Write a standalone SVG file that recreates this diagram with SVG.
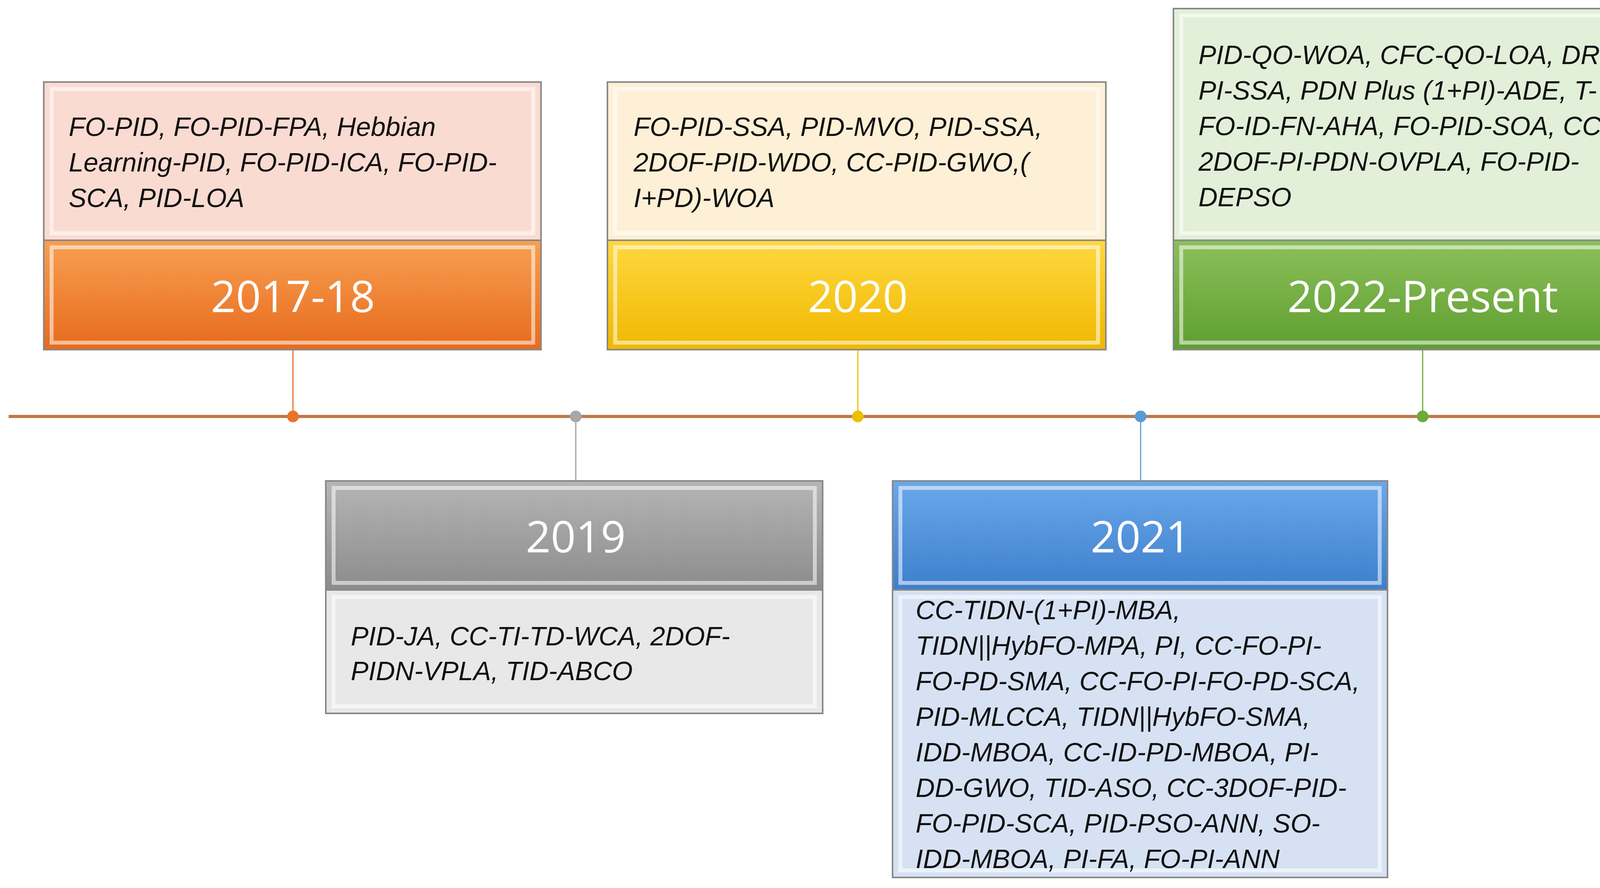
<svg xmlns="http://www.w3.org/2000/svg" width="4386" height="2273" viewBox="0 0 4386 2273">
<style>
.t{font-family:"Liberation Sans",Arial,sans-serif;font-style:italic;font-size:68px;fill:#111;dominant-baseline:central}
.h{font-family:"Open Sans","Liberation Sans",sans-serif;font-size:112px;fill:#fff;text-anchor:middle;dominant-baseline:central}
.b{stroke:#888;stroke-width:4}
.hl{fill:none;stroke:#fff;stroke-opacity:0.55;stroke-width:10}
</style>
<defs>
<linearGradient id="go" x1="0" y1="0" x2="0" y2="1"><stop offset="0" stop-color="#f7a052"/><stop offset="1" stop-color="#e86a1c"/></linearGradient>
<linearGradient id="gg" x1="0" y1="0" x2="0" y2="1"><stop offset="0" stop-color="#b5b5b5"/><stop offset="1" stop-color="#8c8c8c"/></linearGradient>
<linearGradient id="gy" x1="0" y1="0" x2="0" y2="1"><stop offset="0" stop-color="#ffd840"/><stop offset="1" stop-color="#f0b800"/></linearGradient>
<linearGradient id="gb" x1="0" y1="0" x2="0" y2="1"><stop offset="0" stop-color="#6aa8ea"/><stop offset="1" stop-color="#3d7fcc"/></linearGradient>
<linearGradient id="gn" x1="0" y1="0" x2="0" y2="1"><stop offset="0" stop-color="#8cc05a"/><stop offset="1" stop-color="#5e9e30"/></linearGradient>
</defs>
<g id="connectors">
<line x1="22" y1="1066" x2="4363" y2="1066" stroke="#c0784a" stroke-width="8"/>
<line x1="750" y1="895" x2="750" y2="1066" stroke="#e8742a" stroke-width="3"/>
<line x1="1474" y1="1066" x2="1474" y2="1231" stroke="#a0a0a0" stroke-width="3"/>
<line x1="2196" y1="895" x2="2196" y2="1066" stroke="#e8c000" stroke-width="3"/>
<line x1="2920" y1="1066" x2="2920" y2="1231" stroke="#5b9bd5" stroke-width="3"/>
<line x1="3642" y1="895" x2="3642" y2="1066" stroke="#6aac3a" stroke-width="3"/>
<circle cx="750" cy="1066" r="15" fill="#e8742a"/>
<circle cx="1474" cy="1066" r="15" fill="#a8a8a8"/>
<circle cx="2196" cy="1066" r="15" fill="#e8c000"/>
<circle cx="2920" cy="1066" r="15" fill="#5b9bd5"/>
<circle cx="3642" cy="1066" r="15" fill="#6aac3a"/>
</g>
<g id="n2017">
<rect x="112" y="210" width="1273" height="405" fill="#fadbd2" class="b"/><rect x="132" y="228" width="1233" height="369" class="hl"/>
<text class="t" x="176" y="324">FO-PID, FO-PID-FPA, Hebbian</text>
<text class="t" x="176" y="415">Learning-PID, FO-PID-ICA, FO-PID-</text>
<text class="t" x="176" y="506">SCA, PID-LOA</text>
<rect x="112" y="615" width="1273" height="280" fill="url(#go)" class="b"/><rect x="132" y="633" width="1233" height="244" class="hl"/>
<text class="h" x="750" y="755">2017-18</text>
</g>
<g id="n2019">
<rect x="834" y="1231" width="1272" height="279" fill="url(#gg)" class="b"/><rect x="854" y="1249" width="1232" height="243" class="hl"/>
<text class="h" x="1474" y="1370">2019</text>
<rect x="834" y="1510" width="1272" height="316" fill="#e8e8e8" class="b"/><rect x="854" y="1528" width="1232" height="280" class="hl"/>
<text class="t" x="898" y="1628">PID-JA, CC-TI-TD-WCA, 2DOF-</text>
<text class="t" x="898" y="1717">PIDN-VPLA, TID-ABCO</text>
</g>
<g id="n2020">
<rect x="1555" y="210" width="1276" height="405" fill="#fdf0d6" class="b"/><rect x="1575" y="228" width="1236" height="369" class="hl"/>
<text class="t" x="1622" y="324">FO-PID-SSA, PID-MVO, PID-SSA,</text>
<text class="t" x="1622" y="415">2DOF-PID-WDO, CC-PID-GWO,(</text>
<text class="t" x="1622" y="506">I+PD)-WOA</text>
<rect x="1555" y="615" width="1276" height="280" fill="url(#gy)" class="b"/><rect x="1575" y="633" width="1236" height="244" class="hl"/>
<text class="h" x="2196" y="755">2020</text>
</g>
<g id="n2021">
<rect x="2285" y="1231" width="1267" height="279" fill="url(#gb)" class="b"/><rect x="2305" y="1249" width="1227" height="243" class="hl"/>
<text class="h" x="2920" y="1370">2021</text>
<rect x="2285" y="1510" width="1267" height="736" fill="#d6e2f3" class="b"/><rect x="2305" y="1528" width="1227" height="700" class="hl"/>
<text class="t" x="2344" y="1561">CC-TIDN-(1+PI)-MBA,</text>
<text class="t" x="2344" y="1652">TIDN||HybFO-MPA, PI, CC-FO-PI-</text>
<text class="t" x="2344" y="1743">FO-PD-SMA, CC-FO-PI-FO-PD-SCA,</text>
<text class="t" x="2344" y="1834">PID-MLCCA, TIDN||HybFO-SMA,</text>
<text class="t" x="2344" y="1925">IDD-MBOA, CC-ID-PD-MBOA, PI-</text>
<text class="t" x="2344" y="2016">DD-GWO, TID-ASO, CC-3DOF-PID-</text>
<text class="t" x="2344" y="2107">FO-PID-SCA, PID-PSO-ANN, SO-</text>
<text class="t" x="2344" y="2198">IDD-MBOA, PI-FA, FO-PI-ANN</text>
</g>
<g id="n2022">
<rect x="3004" y="22" width="1275" height="593" fill="#e2efd9" class="b"/><rect x="3024" y="40" width="1235" height="557" class="hl"/>
<text class="t" x="3068" y="140">PID-QO-WOA, CFC-QO-LOA, DR-</text>
<text class="t" x="3068" y="231">PI-SSA, PDN Plus (1+PI)-ADE, T-</text>
<text class="t" x="3068" y="322">FO-ID-FN-AHA, FO-PID-SOA, CC-</text>
<text class="t" x="3068" y="413">2DOF-PI-PDN-OVPLA, FO-PID-</text>
<text class="t" x="3068" y="504">DEPSO</text>
<rect x="3004" y="615" width="1275" height="280" fill="url(#gn)" class="b"/><rect x="3024" y="633" width="1235" height="244" class="hl"/>
<text class="h" x="3642" y="755">2022-Present</text>
</g>
</svg>
